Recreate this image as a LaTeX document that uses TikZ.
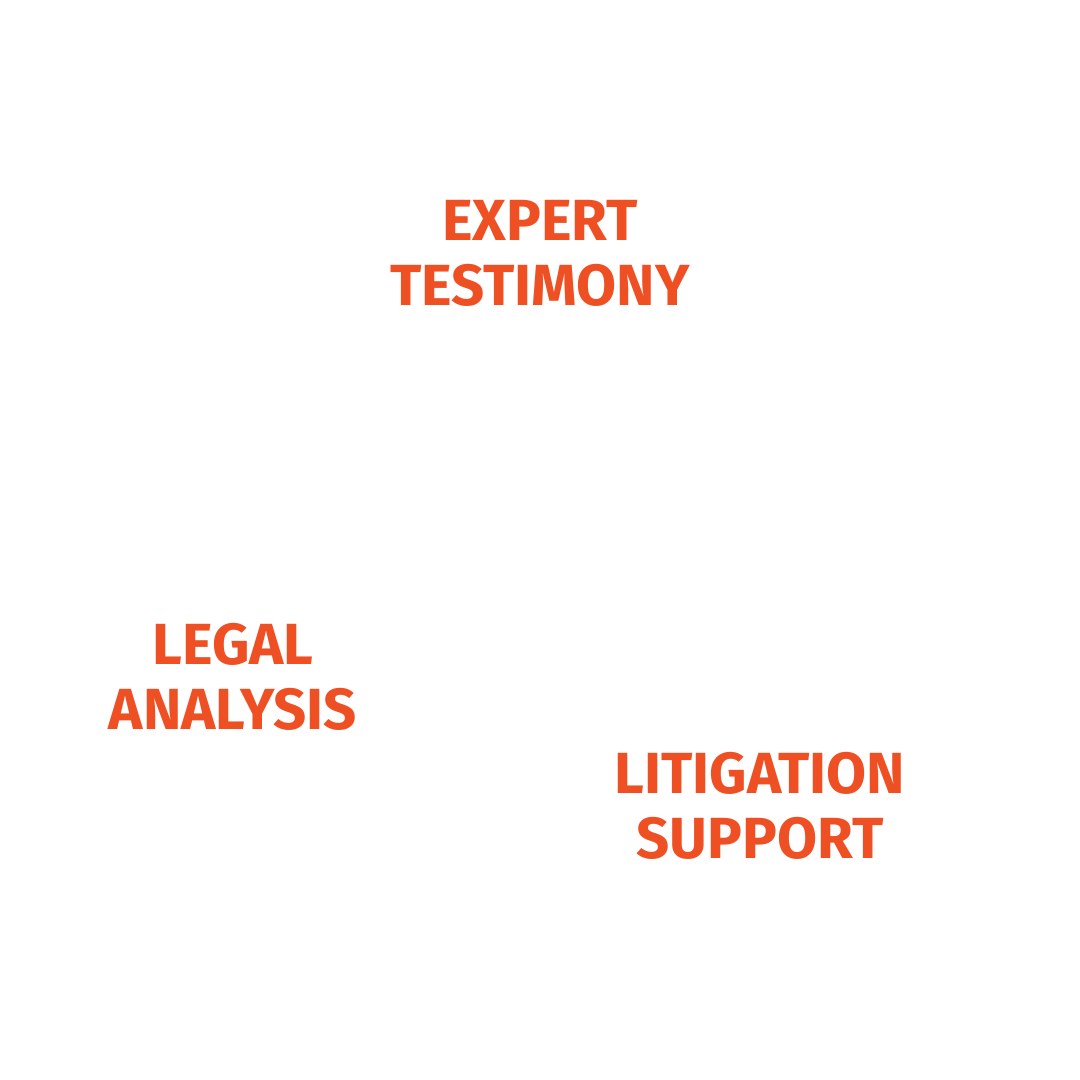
\documentclass[tikz,border=0pt]{standalone}
\usepackage{fontspec}
\setmainfont{Fira Sans}[BoldFont={Fira Sans Bold}]
\definecolor{orng}{HTML}{EE5024}
\begin{document}
\begin{tikzpicture}[x=0.01cm,y=-0.01cm,
  lbl/.style={text=orng,font=\fontsize{16.5}{18.5}\selectfont\bfseries,align=center,inner sep=0pt}]
\useasboundingbox[fill=white] (0,0) rectangle (1080,1080);
\node[lbl] (exp) at (540,253) {EXPERT\\TESTIMONY};
\node[lbl] (leg) at (233,677) {LEGAL\\ANALYSIS};
\node[lbl] (lit) at (760,806) {LITIGATION\\SUPPORT};
\end{tikzpicture}
\end{document}
